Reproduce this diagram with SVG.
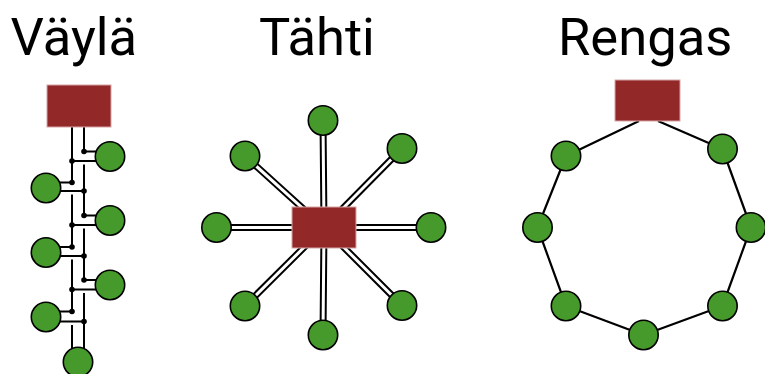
<svg xmlns="http://www.w3.org/2000/svg" width="765" height="374" viewBox="0 0 765 374">
  <style>
    .title { font-family: Roboto, "Liberation Sans", sans-serif; font-size: 52.5px; fill: #000; }
    .hub { fill: #922828; stroke: #d8a5a5; stroke-width: 1; }
    .host { fill: #469a2b; stroke: #000; stroke-width: 1.6; }
    .wire { stroke: #000; stroke-width: 2; fill: none; stroke-linecap: butt; }
    .dot { fill: #000; }
    .tube-out { stroke: #000; stroke-width: 7; fill: none; }
    .tube-in { stroke: #fff; stroke-width: 3; fill: none; }
    .ring { stroke: #000; stroke-width: 2.2; fill: none; stroke-linejoin: round; }
  </style>

  <!-- Titles -->
  <text class="title" x="10.5" y="55">Väylä</text>
  <text class="title" x="259" y="55">Tähti</text>
  <text class="title" x="558" y="55">Rengas</text>

  <!-- ===== Bus topology ===== -->
  <g id="bus-connectors">
    <!-- right wall x=84 -->
    <path class="wire" d="M84 127V151.5 M84 164.5V215.5 M84 228.5V280 M84 293V352"/>
    <!-- left wall x=72 -->
    <path class="wire" d="M72 127V182.5 M72 194.5V247 M72 259.5V311.5 M72 325V352"/>
    <!-- branches to the right-hand hosts -->
    <path class="wire" d="M84 151.5H104 M72 161H104 M84 215.5H104 M72 225H104 M84 280H104 M72 289.5H104"/>
    <!-- branches to the left-hand hosts -->
    <path class="wire" d="M72 182.5H52 M84 191H52 M72 247H52 M84 256H52 M72 311.5H52 M84 321.5H52"/>
    <g class="dot">
      <circle cx="84" cy="151.5" r="2.8"/>
      <circle cx="72" cy="161" r="2.8"/>
      <circle cx="72" cy="182.5" r="2.8"/>
      <circle cx="84" cy="191" r="2.8"/>
      <circle cx="84" cy="215.5" r="2.8"/>
      <circle cx="72" cy="225" r="2.8"/>
      <circle cx="72" cy="247" r="2.8"/>
      <circle cx="84" cy="256" r="2.8"/>
      <circle cx="84" cy="280" r="2.8"/>
      <circle cx="72" cy="289.5" r="2.8"/>
      <circle cx="72" cy="311.5" r="2.8"/>
      <circle cx="84" cy="321.5" r="2.8"/>
    </g>
  </g>
  <g id="bus-hub"><rect class="hub" x="47" y="85" width="64" height="42"/></g>
  <g id="bus-host-r1"><circle class="host" cx="110" cy="156.5" r="14.7"/></g>
  <g id="bus-host-l1"><circle class="host" cx="46" cy="188" r="14.7"/></g>
  <g id="bus-host-r2"><circle class="host" cx="110" cy="220.5" r="14.7"/></g>
  <g id="bus-host-l2"><circle class="host" cx="46" cy="252.5" r="14.7"/></g>
  <g id="bus-host-r3"><circle class="host" cx="110" cy="285" r="14.7"/></g>
  <g id="bus-host-l3"><circle class="host" cx="46" cy="317" r="14.7"/></g>
  <g id="bus-host-end"><circle class="host" cx="78" cy="362" r="14.7"/></g>

  <!-- ===== Star topology ===== -->
  <g id="star-connectors">
    <path class="tube-out" d="M324 227.5L323 120.5 M324 227.5L402 148.5 M324 227.5L431 227.5 M324 227.5L402 305.5 M324 227.5L323 335 M324 227.5L245 306 M324 227.5L216.5 227.5 M324 227.5L245 156"/>
    <path class="tube-in" d="M324 227.5L323 120.5 M324 227.5L402 148.5 M324 227.5L431 227.5 M324 227.5L402 305.5 M324 227.5L323 335 M324 227.5L245 306 M324 227.5L216.5 227.5 M324 227.5L245 156"/>
  </g>
  <g id="star-hub"><rect class="hub" x="292" y="207" width="64" height="41"/></g>
  <g id="star-host-n"><circle class="host" cx="323" cy="120.5" r="14.7"/></g>
  <g id="star-host-ne"><circle class="host" cx="402" cy="148.5" r="14.7"/></g>
  <g id="star-host-e"><circle class="host" cx="431" cy="227.5" r="14.7"/></g>
  <g id="star-host-se"><circle class="host" cx="402" cy="305.5" r="14.7"/></g>
  <g id="star-host-s"><circle class="host" cx="323" cy="335" r="14.7"/></g>
  <g id="star-host-sw"><circle class="host" cx="245" cy="306" r="14.7"/></g>
  <g id="star-host-w"><circle class="host" cx="216.5" cy="227.5" r="14.7"/></g>
  <g id="star-host-nw"><circle class="host" cx="245" cy="156" r="14.7"/></g>

  <!-- ===== Ring topology ===== -->
  <g id="ring-connectors">
    <polyline class="ring" points="639,121 566,156 537.5,227.5 566,306 643.5,335 722.5,306 751,227.5 722.5,149 658,121"/>
  </g>
  <g id="ring-hub"><rect class="hub" x="615" y="80" width="65" height="41"/></g>
  <g id="ring-host-1"><circle class="host" cx="566" cy="156" r="14.7"/></g>
  <g id="ring-host-2"><circle class="host" cx="537.5" cy="227.5" r="14.7"/></g>
  <g id="ring-host-3"><circle class="host" cx="566" cy="306" r="14.7"/></g>
  <g id="ring-host-4"><circle class="host" cx="643.5" cy="335" r="14.7"/></g>
  <g id="ring-host-5"><circle class="host" cx="722.5" cy="306" r="14.7"/></g>
  <g id="ring-host-6"><circle class="host" cx="751" cy="227.5" r="14.7"/></g>
  <g id="ring-host-7"><circle class="host" cx="722.5" cy="149" r="14.7"/></g>
</svg>
